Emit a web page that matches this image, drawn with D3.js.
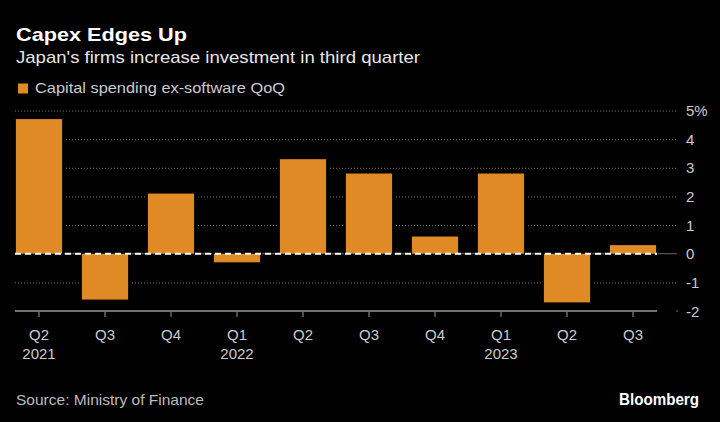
<!DOCTYPE html>
<html><head><meta charset="utf-8">
<script src="https://cdn.jsdelivr.net/npm/d3@7"></script>
<style>
html,body{margin:0;padding:0;background:#000;}
svg{display:block;}
text{font-family:"Liberation Sans","Noto Sans",sans-serif;}
</style></head>
<body>
<script>
const quarters = ["Q2","Q3","Q4","Q1","Q2","Q3","Q4","Q1","Q2","Q3"];
const years = ["2021","","","2022","","","","2023","",""];
const values = [4.7,-1.6,2.1,-0.3,3.3,2.8,0.6,2.8,-1.7,0.3];
const yTicks = [5,4,3,2,1,0,-1,-2];
const yTickLabels = ["5%","4","3","2","1","0","-1","-2"];
const categories = quarters.map((q,i)=>i);

const W=720,H=422;
const svg=d3.select("body").append("svg").attr("width",W).attr("height",H);
svg.append("rect").attr("width",W).attr("height",H).attr("fill","#000");

const x=d3.scaleBand().domain(categories).range([6,666]).paddingInner(0.3).paddingOuter(0.15);
const y=d3.scaleLinear().domain([-2,5]).range([311,110.5]);

// gridlines
svg.append("g").selectAll("line").data(yTicks.filter(d=>d!==0&&d!==-2)).join("line")
  .attr("x1",15).attr("x2",677).attr("y1",d=>y(d)+0.5).attr("y2",d=>y(d)+0.5)
  .attr("stroke","#777").attr("stroke-width",1).attr("stroke-dasharray","1,2");
// zero line base
svg.append("line").attr("x1",15).attr("x2",677).attr("y1",y(0)).attr("y2",y(0))
  .attr("stroke","#666").attr("stroke-width",1);

// bar gaps (black halo around bars)
svg.append("g").selectAll("rect").data(values).join("rect")
  .attr("x",(d,i)=>x(i)-2).attr("width",x.bandwidth()+4)
  .attr("y",d=>y(Math.max(0,d))-2).attr("height",d=>Math.abs(y(d)-y(0))+4)
  .attr("fill","#000");
// bars
svg.append("g").selectAll("rect").data(values).join("rect")
  .attr("x",(d,i)=>x(i)).attr("width",x.bandwidth())
  .attr("y",d=>y(Math.max(0,d))).attr("height",d=>Math.abs(y(d)-y(0)))
  .attr("fill","#e08a26");

// zero dashed
svg.append("line").attr("x1",15).attr("x2",657).attr("y1",y(0)).attr("y2",y(0))
  .attr("stroke","#fff").attr("stroke-width",2).attr("stroke-dasharray","6,4");

// x axis
const ax=svg.append("g").attr("transform",`translate(0,${y(-2)})`);
ax.append("line").attr("x1",15).attr("x2",657).attr("stroke","#999").attr("stroke-width",1.5);
ax.append("circle").attr("cx",677).attr("cy",0).attr("r",0.8).attr("fill","#777");
ax.selectAll(".tk").data(categories).join("line").attr("class","tk")
  .attr("x1",d=>x(d)+x.bandwidth()/2).attr("x2",d=>x(d)+x.bandwidth()/2)
  .attr("y1",1).attr("y2",6).attr("stroke","#999").attr("stroke-width",1);
ax.selectAll(".ql").data(categories).join("text").attr("class","ql")
  .attr("x",d=>x(d)+x.bandwidth()/2).attr("y",29).attr("text-anchor","middle")
  .attr("fill","#ccc").attr("font-size",15).text(d=>quarters[d]);
ax.selectAll(".yl").data(categories).join("text").attr("class","yl")
  .attr("x",d=>x(d)+x.bandwidth()/2).attr("y",48).attr("text-anchor","middle")
  .attr("fill","#ccc").attr("font-size",15).text(d=>years[d]);

// y labels
svg.append("g").selectAll("text").data(yTicks).join("text")
  .attr("x",686).attr("y",d=>y(d)+5.5).attr("fill","#ccc").attr("font-size",15)
  .text((d,i)=>yTickLabels[i]);

// titles
svg.append("text").attr("x",16).attr("y",41).attr("fill","#fff").attr("font-size",19).attr("font-weight","bold")
  .attr("textLength",171).attr("lengthAdjust","spacingAndGlyphs").text("Capex Edges Up");
svg.append("text").attr("x",16).attr("y",63).attr("fill","#e6e6e6").attr("font-size",17)
  .attr("textLength",404).attr("lengthAdjust","spacingAndGlyphs").text("Japan's firms increase investment in third quarter");
svg.append("rect").attr("x",18).attr("y",83.5).attr("width",10).attr("height",10).attr("fill","#e08a26");
svg.append("text").attr("x",35).attr("y",93).attr("fill","#ccc").attr("font-size",15)
  .attr("textLength",250).attr("lengthAdjust","spacingAndGlyphs").text("Capital spending ex-software QoQ");
svg.append("text").attr("x",16).attr("y",405).attr("fill","#bbb").attr("font-size",15)
  .attr("textLength",188).attr("lengthAdjust","spacingAndGlyphs").text("Source: Ministry of Finance");
svg.append("text").attr("x",699).attr("y",405).attr("text-anchor","end").attr("fill","#fff").attr("font-size",16).attr("font-weight","bold")
  .attr("textLength",80).attr("lengthAdjust","spacingAndGlyphs").text("Bloomberg");
</script>
</body></html>
